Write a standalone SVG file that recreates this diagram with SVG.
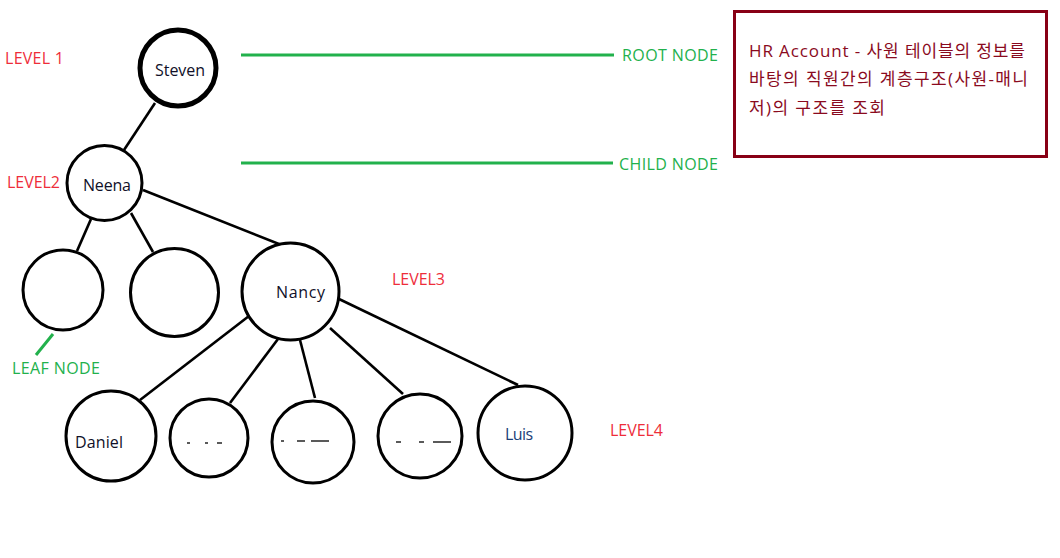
<svg xmlns="http://www.w3.org/2000/svg" width="1060" height="558" viewBox="0 0 1060 558">
<style>
.n{fill:#fff;stroke:#000;stroke-width:3}
.root{stroke-width:5}
.c{stroke:#000;stroke-width:2.6;fill:none;stroke-linecap:butt}
.g{stroke:#22b14c;stroke-width:3;fill:none}
.d{stroke:#000;stroke-width:1.3}
.t{font-family:"Open Sans","Noto Sans CJK KR",sans-serif;font-size:16px;fill:#101028}
.lv{font-family:"Open Sans","Noto Sans CJK KR",sans-serif;font-size:16px;fill:#ee2d3a}
.gl{font-family:"Open Sans","Noto Sans CJK KR",sans-serif;font-size:16px;fill:#22b14c}
.k{font-family:"Open Sans","Noto Sans CJK KR",sans-serif;font-size:17px;fill:#8a0a1e}
</style>
<rect width="1060" height="558" fill="#fff"/>
<g id="connectors">
<line class="c" x1="155" y1="103" x2="124" y2="150"/>
<line class="c" x1="143" y1="190" x2="284" y2="246"/>
<line class="c" x1="91" y1="219" x2="77" y2="251"/>
<line class="c" x1="131" y1="213" x2="153" y2="252"/>
<line class="c" x1="249" y1="316" x2="140" y2="400"/>
<line class="c" x1="278" y1="339" x2="230" y2="403"/>
<line class="c" x1="300" y1="340" x2="315" y2="398"/>
<line class="c" x1="330" y1="328" x2="403" y2="394"/>
<line class="c" x1="339" y1="299" x2="518" y2="385"/>
<line class="g" x1="241" y1="55" x2="614" y2="55"/>
<line class="g" x1="241" y1="163" x2="613" y2="163"/>
<line class="g" x1="53" y1="334" x2="36" y2="355"/>
</g>
<g id="steven"><circle class="n root" cx="178" cy="68" r="38"/><text class="t" x="155" y="76" textLength="50">Steven</text></g>
<g id="neena"><circle class="n" cx="104.5" cy="183" r="37.5"/><text class="t" x="83" y="191" textLength="48">Neena</text></g>
<g id="leaf1"><circle class="n" cx="63" cy="290" r="40"/></g>
<g id="leaf2"><circle class="n" cx="174.5" cy="292.5" r="44"/></g>
<g id="nancy"><circle class="n" cx="290.5" cy="291.5" r="48.5"/><text class="t" x="276" y="298" textLength="49">Nancy</text></g>
<g id="daniel"><circle class="n" cx="111" cy="436" r="45"/><text class="t" x="75" y="448" textLength="48">Daniel</text></g>
<g id="emp2"><circle class="n" cx="209" cy="438" r="39"/>
<line class="d" x1="187" y1="443" x2="190" y2="443"/><line class="d" x1="205" y1="443" x2="208" y2="443"/><line class="d" x1="217" y1="443" x2="222" y2="443"/></g>
<g id="emp3"><circle class="n" cx="313" cy="442" r="41"/>
<line class="d" x1="281" y1="441" x2="284" y2="441"/><line class="d" x1="297" y1="441" x2="305" y2="441"/><line class="d" x1="311" y1="441" x2="329" y2="441"/></g>
<g id="emp4"><circle class="n" cx="420" cy="436" r="42"/>
<line class="d" x1="396" y1="442" x2="401" y2="442"/><line class="d" x1="419" y1="442" x2="424" y2="442"/><line class="d" x1="433" y1="442" x2="451" y2="442"/></g>
<g id="luis"><circle class="n" cx="525" cy="433" r="47"/><text class="t" x="505" y="440" textLength="28" style="fill:#1c3f78">Luis</text></g>
<g id="labels">
<text class="lv" x="5" y="64" textLength="59">LEVEL 1</text>
<text class="lv" x="7" y="188" textLength="53">LEVEL2</text>
<text class="lv" x="392" y="285" textLength="53">LEVEL3</text>
<text class="lv" x="610" y="436" textLength="53">LEVEL4</text>
<text class="gl" x="622" y="61" textLength="96">ROOT NODE</text>
<text class="gl" x="619" y="170" textLength="99">CHILD NODE</text>
<text class="gl" x="12" y="374" textLength="88">LEAF NODE</text>
</g>
<g id="note">
<rect x="734.5" y="11.5" width="312" height="145" fill="#fff" stroke="#880015" stroke-width="3"/>
<text class="k" x="749" y="57" textLength="276">HR Account - 사원 테이블의 정보를</text>
<text class="k" x="749" y="85" textLength="279">바탕의 직원간의 계층구조(사원-매니</text>
<text class="k" x="749" y="114" textLength="136">저)의 구조를 조회</text>
</g>
</svg>
